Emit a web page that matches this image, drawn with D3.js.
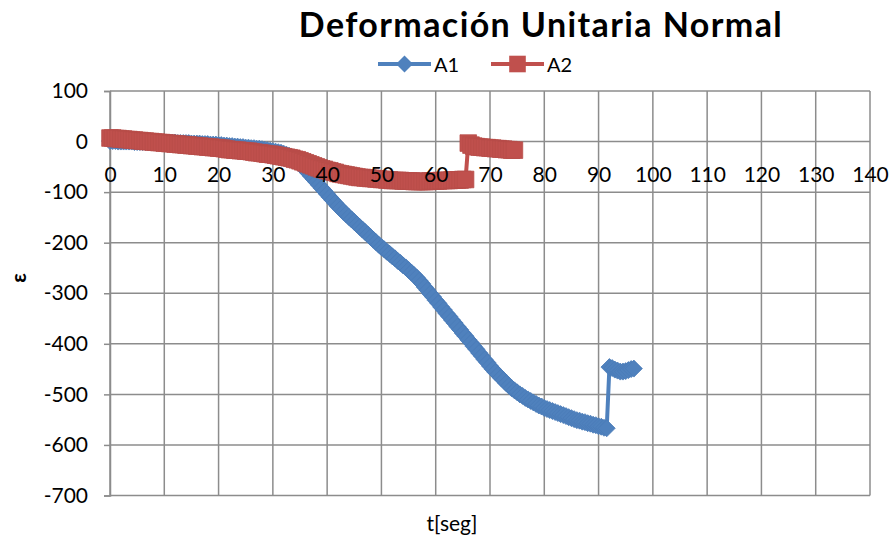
<!DOCTYPE html>
<html>
<head>
<meta charset="utf-8">
<script src="https://cdn.jsdelivr.net/npm/d3@7"></script>
<style>
  body { margin: 0; background: #fff; }
  svg { display: block; }
  text { font-family: Lato, "Noto Sans", sans-serif; fill: #000; }
</style>
</head>
<body>
<script>
// values
var chartTitle = "Deformación Unitaria Normal";
var xTitle = "t[seg]";
var yTitle = "ε";
var seriesNames = ["A1", "A2"];
var sampleStep = 0.5; // seconds between readings

// A1, one reading every 0.5 s from t = 0
var a1 = [
  1, 1, 1, 0, 0, 0, 0, 0, 0, -1, -1, -1, -1, -1, -1, -1, -1, -2, -2, -2,
  -2, -2, -2, -2, -2, -3, -3, -3, -3, -3, -4, -4, -4, -4, -5, -5, -5, -6, -6, -6,
  -7, -7, -8, -8, -9, -9, -10, -10, -11, -11, -12, -12, -13, -13, -14, -14, -15, -16, -17, -18,
  -19, -20, -21, -22, -24, -26, -28, -31, -35, -40, -45, -50, -56, -62, -68, -74, -80, -86, -92, -98,
  -104, -110, -116, -122, -128, -133, -139, -144, -149, -154, -159, -164, -169, -174, -179, -184, -189, -194, -199, -204,
  -209, -213, -218, -222, -227, -231, -236, -240, -245, -249, -254, -259, -264, -269, -275, -281, -288, -294, -301, -307,
  -314, -320, -327, -333, -340, -346, -353, -359, -366, -372, -379, -385, -392, -398, -405, -411, -418, -424, -431, -437,
  -444, -450, -456, -461, -467, -472, -478, -483, -488, -492, -496, -500, -503, -507, -510, -513, -516, -519, -522, -524,
  -527, -529, -531, -533, -535, -537, -539, -541, -543, -545, -547, -549, -551, -552, -554, -555, -557, -558, -560, -561,
  -563, -564, -566, -567, -446, -448, -451, -453, -455, -455, -454, -452, -450, -449
];

// A2, one reading every 0.5 s from t = 0
var a2 = [
  7, 7, 6, 6, 5, 5, 4, 4, 3, 3, 2, 2, 1, 1, 0, 0, -1, -1, -2, -2,
  -3, -3, -4, -4, -5, -5, -6, -6, -7, -7, -8, -8, -9, -9, -10, -10, -11, -11, -12, -12,
  -13, -13, -14, -15, -16, -16, -17, -17, -18, -18, -19, -19, -20, -21, -22, -22, -23, -24, -25, -25,
  -26, -27, -28, -29, -30, -31, -32, -33, -35, -36, -38, -40, -42, -44, -46, -48, -50, -52, -54, -55,
  -57, -58, -60, -61, -63, -64, -65, -66, -67, -68, -69, -70, -71, -71, -72, -72, -73, -73, -74, -74,
  -75, -75, -76, -76, -77, -77, -77, -77, -78, -78, -78, -78, -79, -79, -79, -79, -79, -79, -78, -78,
  -78, -78, -77, -77, -77, -77, -76, -76, -76, -76, -75, -75, -3, -7, -9, -10, -11, -11, -12, -12,
  -13, -13, -14, -14, -15, -15, -16, -16, -17, -17
];

var xTicks = [0, 10, 20, 30, 40, 50, 60, 70, 80, 90, 100, 110, 120, 130, 140];
var yTicks = [100, 0, -100, -200, -300, -400, -500, -600, -700];

var colors = ["#4f81bd", "#c0504d"];
var edges = ["#4a7bb7", "#b84c49"];

var width = 896, height = 543;

var svg = d3.select("body").append("svg")
    .attr("width", width)
    .attr("height", height);

var x = d3.scaleLinear().domain([0, 140]).range([110, 870]);
var y = d3.scaleLinear().domain([-700, 100]).range([495.5, 91]);

// gridlines
var grid = svg.append("g").attr("stroke", "#8c8c8c").attr("stroke-width", 1.5);
grid.selectAll("line.v")
  .data(xTicks)
  .enter().append("line")
    .attr("x1", d => x(d)).attr("x2", d => x(d))
    .attr("y1", y(100)).attr("y2", y(-700));
grid.selectAll("line.h")
  .data(yTicks)
  .enter().append("line")
    .attr("x1", x(0)).attr("x2", x(140))
    .attr("y1", d => y(d)).attr("y2", d => y(d));

// y axis
var yAxis = svg.append("g")
    .attr("transform", "translate(" + x(0) + ",0)")
    .call(d3.axisLeft(y).tickValues(yTicks).tickFormat(d => String(d)).tickSize(6).tickPadding(16));
yAxis.select(".domain").attr("stroke", "#8c8c8c").attr("stroke-width", 1.5);
yAxis.selectAll(".tick line").attr("stroke", "#8c8c8c").attr("stroke-width", 1.5);
yAxis.selectAll("text").attr("font-size", 21).attr("font-family", "Lato, sans-serif").attr("fill", "#000");

// series
var diamond = "M0,-8.5L8.5,0L0,8.5L-8.5,0Z";
var square = "M-8.3,-8.3H8.3V8.3H-8.3Z";
var shapes = [diamond, square];

var line = d3.line()
  .x((d, i) => x(i * sampleStep))
  .y(d => y(d));

[a1, a2].forEach(function(vals, s) {
  var g = svg.append("g");
  g.append("path")
    .datum(vals)
    .attr("fill", "none")
    .attr("stroke", colors[s])
    .attr("stroke-width", 4)
    .attr("d", line);
  g.selectAll("path.m")
    .data(vals)
    .enter().append("path")
      .attr("class", "m")
      .attr("d", shapes[s])
      .attr("fill", colors[s])
      .attr("stroke", edges[s])
      .attr("stroke-width", 0.8)
      .attr("transform", (d, i) => "translate(" + x(i * sampleStep) + "," + y(d) + ")");
});

// x axis sits on the zero line, labels drawn over the series
var xAxis = svg.append("g")
    .attr("transform", "translate(0," + y(0) + ")")
    .call(d3.axisBottom(x).tickValues(xTicks).tickFormat(d => String(d)).tickSize(0).tickPadding(26));
xAxis.select(".domain").remove();
xAxis.selectAll("text").attr("font-size", 21).attr("font-family", "Lato, sans-serif").attr("fill", "#000");

// title
svg.append("text")
  .attr("x", 541).attr("y", 37)
  .attr("text-anchor", "middle")
  .attr("font-size", 34)
  .attr("font-weight", "bold")
  .attr("letter-spacing", 1.4)
  .text(chartTitle);

// legend
var legendX = [378, 491];
seriesNames.forEach(function(name, s) {
  var g = svg.append("g").attr("transform", "translate(" + legendX[s] + ",64)");
  g.append("line")
    .attr("x1", 0).attr("x2", 53)
    .attr("stroke", colors[s]).attr("stroke-width", 4);
  g.append("path")
    .attr("d", shapes[s])
    .attr("transform", "translate(26.5,0)")
    .attr("fill", colors[s]);
  g.append("text")
    .attr("x", 56).attr("y", 7.5)
    .attr("font-size", 20)
    .text(name);
});

// axis titles
svg.append("text")
  .attr("x", 452).attr("y", 531)
  .attr("text-anchor", "middle")
  .attr("font-size", 21)
  .text(xTitle);

svg.append("text")
  .attr("transform", "translate(26,278) rotate(-90)")
  .attr("text-anchor", "middle")
  .attr("font-size", 21)
  .attr("font-weight", "bold")
  .text(yTitle);
</script>
</body>
</html>
